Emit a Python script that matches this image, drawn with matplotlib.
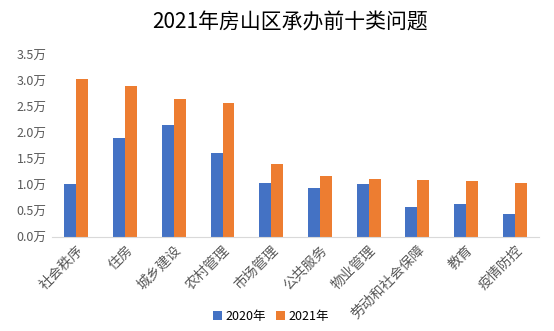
import numpy as np
import matplotlib
matplotlib.use("Agg")
import matplotlib.pyplot as plt

plt.rcParams['font.family'] = ['Noto Sans CJK SC', 'DejaVu Sans']

categories = ["社会秩序", "住房", "城乡建设", "农村管理", "市场管理",
              "公共服务", "物业管理", "劳动和社会保障", "教育", "疫情防控"]
# 单位：万件
y2020 = [1.03, 1.91, 2.16, 1.62, 1.04, 0.95, 1.03, 0.58, 0.64, 0.45]
y2021 = [3.04, 2.91, 2.66, 2.58, 1.41, 1.18, 1.12, 1.10, 1.08, 1.04]
yticks = [0.0, 0.5, 1.0, 1.5, 2.0, 2.5, 3.0, 3.5]

fig = plt.figure(figsize=(5.54, 3.31), dpi=100)
ax = fig.add_axes([0.094, 0.283, 0.879, 0.55])

x = np.arange(len(categories))
w = 0.245
ax.bar(x - w / 2, y2020, w, color="#4472C4", label="2020年")
ax.bar(x + w / 2, y2021, w, color="#ED7D31", label="2021年")

ax.set_xlim(-0.5, len(categories) - 0.5)
ax.set_ylim(0, 3.5)
ax.set_yticks(yticks)
ax.set_yticklabels([f"{v:.1f}万" for v in yticks], color="#595959", fontsize=9)
ax.set_xticks(x)
ax.set_xticklabels(categories, rotation=45, ha="right", rotation_mode="anchor",
                   color="#595959", fontsize=10)
ax.tick_params(length=0, pad=4)
for s in ["top", "right", "left"]:
    ax.spines[s].set_visible(False)
ax.spines["bottom"].set_color("#D9D9D9")

fig.suptitle("2021年房山区承办前十类问题", fontsize=15, x=0.523, y=0.965)
fig.legend(loc="lower center", ncol=2, frameon=False, fontsize=9,
           bbox_to_anchor=(0.49, -0.01), handlelength=0.7, handleheight=0.7,
           handletextpad=0.3, columnspacing=0.8)

fig.savefig("out.png", dpi=100)
